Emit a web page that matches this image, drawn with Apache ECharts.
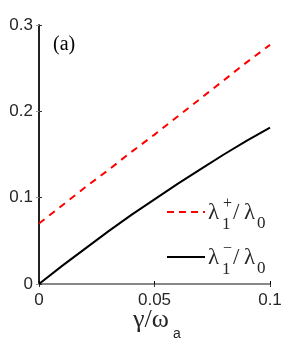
<!DOCTYPE html>
<html>
<head>
<meta charset="utf-8">
<script src="https://cdn.jsdelivr.net/npm/echarts@6/dist/echarts.min.js"></script>
<style>html,body{margin:0;padding:0;background:#fff;}#c{width:299px;height:345px;}</style>
</head>
<body>
<div id="c"></div>
<script>
var gammaValues = [0, 0.01, 0.02, 0.03, 0.04, 0.05, 0.06, 0.07, 0.08, 0.09, 0.1];
var lambdaPlus = [0.070, 0.091, 0.112, 0.132, 0.153, 0.173, 0.194, 0.215, 0.236, 0.257, 0.277];
var lambdaMinus = [0, 0.021, 0.041, 0.061, 0.080, 0.098, 0.116, 0.133, 0.150, 0.166, 0.181];
var xTicks = [0, 0.05, 0.1];
var yTicks = [0, 0.1, 0.2, 0.3];

function pairs(xs, ys){ return xs.map(function(x,i){ return [x, ys[i]]; }); }

var chart = echarts.init(document.getElementById('c'));
var labelColor = '#262626';
var sans = 'Liberation Sans';
var serif = 'Liberation Serif';

function txt(x, y, s, size, family, color){
  return {type:'text', x:x, y:y, style:{text:s, fontSize:size, fontFamily:family, fill:color||labelColor, verticalAlign:'middle', align:'left'}};
}

function legendEntry(x, y, sup, color, dashed){
  return [
    {type:'line', shape:{x1:x, y1:y, x2:x+38, y2:y}, style:{stroke:color, lineWidth:2, lineDash: dashed ? [7,5] : null}},
    txt(x+41, y+1, 'λ', 23, serif),
    txt(x+56, y-8, sup, 16, serif),
    txt(x+55, y+13, '1', 17, serif),
    txt(x+66, y+1, '/', 23, serif),
    txt(x+77, y+1, 'λ', 23, serif),
    txt(x+90, y+12, '0', 17, serif)
  ];
}

var graphics = [
  txt(53, 45, '(a)', 20, serif, '#000'),
  txt(133, 320, 'γ/ω', 26, serif),
  txt(173, 334, 'a', 14, sans)
].concat(legendEntry(167, 212, '+', '#ff0000', true)).concat(legendEntry(167, 257, '−', '#000000', false));

chart.setOption({
  animation:false,
  backgroundColor:'#fff',
  grid:{left:39, right:29, top:25, bottom:61},
  xAxis:[
    {type:'value', min:0, max:0.1, interval:0.05, position:'bottom',
     axisLine:{lineStyle:{color:'#000', width:1.5}},
     axisTick:{inside:true, length:3, lineStyle:{color:'#000'}},
     axisLabel:{color:labelColor, fontSize:17, fontFamily:sans, margin:8,
       formatter:function(v){ return xTicks.indexOf(+v.toFixed(2))>=0 ? String(+v.toFixed(2)) : ''; }},
     splitLine:{show:false}},
    {type:'value', min:0, max:0.1, interval:0.05, position:'top',
     axisLine:{lineStyle:{color:'#888', width:2}},
     axisTick:{inside:true, length:3, lineStyle:{color:'#333'}},
     axisLabel:{show:false}, splitLine:{show:false}}
  ],
  yAxis:[
    {type:'value', min:0, max:0.3, interval:0.1, position:'left',
     axisLine:{show:true, lineStyle:{color:'#888', width:2}},
     axisTick:{show:true, inside:true, length:3, lineStyle:{color:'#333'}},
     axisLabel:{color:labelColor, fontSize:17, fontFamily:sans, margin:6,
       formatter:function(v){ return String(+v.toFixed(1)); }},
     splitLine:{show:false}},
    {type:'value', min:0, max:0.3, interval:0.1, position:'right',
     axisLine:{show:true, lineStyle:{color:'#000', width:1.5}},
     axisTick:{show:true, inside:true, length:3, lineStyle:{color:'#999'}},
     axisLabel:{show:false}, splitLine:{show:false}}
  ],
  series:[
    {type:'line', name:'plus', data:pairs(gammaValues, lambdaPlus), symbol:'none', smooth:false,
     lineStyle:{color:'#ff0000', width:2, type:[7,6]}},
    {type:'line', name:'minus', data:pairs(gammaValues, lambdaMinus), symbol:'none', smooth:false,
     lineStyle:{color:'#000', width:2}}
  ],
  graphic:graphics
});
</script>
</body>
</html>
